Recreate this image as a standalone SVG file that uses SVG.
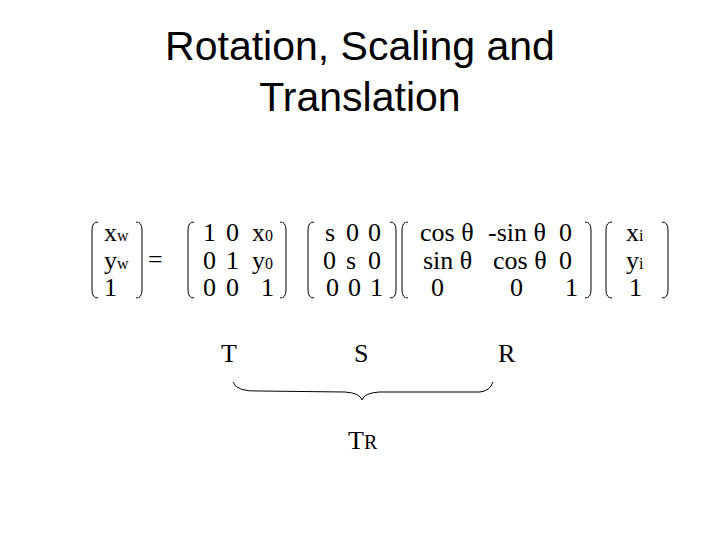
<svg xmlns="http://www.w3.org/2000/svg" width="720" height="540" viewBox="0 0 720 540">
<style>
.t{font-family:"Liberation Serif",serif;font-size:26px;fill:#000}
.s{font-size:16px}
.h{font-family:"Liberation Sans",sans-serif;font-size:41px;text-anchor:middle;fill:#000}
.b{fill:none;stroke:#000;stroke-width:1}
</style>
<rect width="720" height="540" fill="#fff"/>
<g id="title"><text class="h" x="360" y="60">Rotation, Scaling and</text><text class="h" x="360" y="111">Translation</text></g>
<g id="brackets" class="b">
<path d="M98 222 Q92 222 92 230 L92 290 Q92 298 98 298"/><path d="M136 222 Q142 222 142 230 L142 290 Q142 298 136 298"/>
<path d="M194 222 Q188 222 188 230 L188 290 Q188 298 194 298"/><path d="M280 222 Q286 222 286 230 L286 290 Q286 298 280 298"/>
<path d="M314 222 Q308 222 308 230 L308 290 Q308 298 314 298"/><path d="M390 222 Q396 222 396 230 L396 290 Q396 298 390 298"/>
<path d="M408 222 Q402 222 402 230 L402 290 Q402 298 408 298"/><path d="M585 222 Q591 222 591 230 L591 290 Q591 298 585 298"/>
<path d="M612 222 Q606 222 606 230 L606 290 Q606 298 612 298"/><path d="M662 222 Q668 222 668 230 L668 290 Q668 298 662 298"/>
</g>
<g id="lhs" class="t"><text x="104" y="241">x<tspan class="s">w</tspan></text><text x="104" y="269">y<tspan class="s">w</tspan></text><text x="104" y="296">1</text></g>
<g id="eq" class="t"><text x="148" y="268">=</text></g>
<g id="Tm" class="t">
<text x="203" y="241">1</text><text x="226" y="241">0</text><text x="252" y="241">x<tspan class="s">0</tspan></text>
<text x="203" y="269">0</text><text x="226" y="269">1</text><text x="252" y="269">y<tspan class="s">0</tspan></text>
<text x="203" y="296">0</text><text x="226" y="296">0</text><text x="261" y="296">1</text>
</g>
<g id="Sm" class="t">
<text x="325" y="241">s</text><text x="346" y="241">0</text><text x="368" y="241">0</text>
<text x="323" y="269">0</text><text x="346" y="269">s</text><text x="368" y="269">0</text>
<text x="326" y="296">0</text><text x="348" y="296">0</text><text x="370" y="296">1</text>
</g>
<g id="Rm" class="t">
<text x="420" y="241">cos θ</text><text x="488" y="241">-sin θ</text><text x="559" y="241">0</text>
<text x="423" y="269">sin θ</text><text x="493" y="269">cos θ</text><text x="559" y="269">0</text>
<text x="431" y="296">0</text><text x="510" y="296">0</text><text x="565" y="296">1</text>
</g>
<g id="rhs" class="t"><text x="626" y="241">x<tspan class="s">i</tspan></text><text x="626" y="269">y<tspan class="s">i</tspan></text><text x="629" y="296">1</text></g>
<g id="labels" class="t"><text x="221" y="362">T</text><text x="354" y="362">S</text><text x="498" y="362">R</text><text x="348" y="449">T<tspan style="font-size:20px">R</tspan></text></g>
<g id="connectors"><path class="b" d="M233 382 Q236 392 260 391 L345 392 Q360 393 362 400 Q364 393 379 392 L480 392 Q490 391 493 382"/></g>
</svg>
